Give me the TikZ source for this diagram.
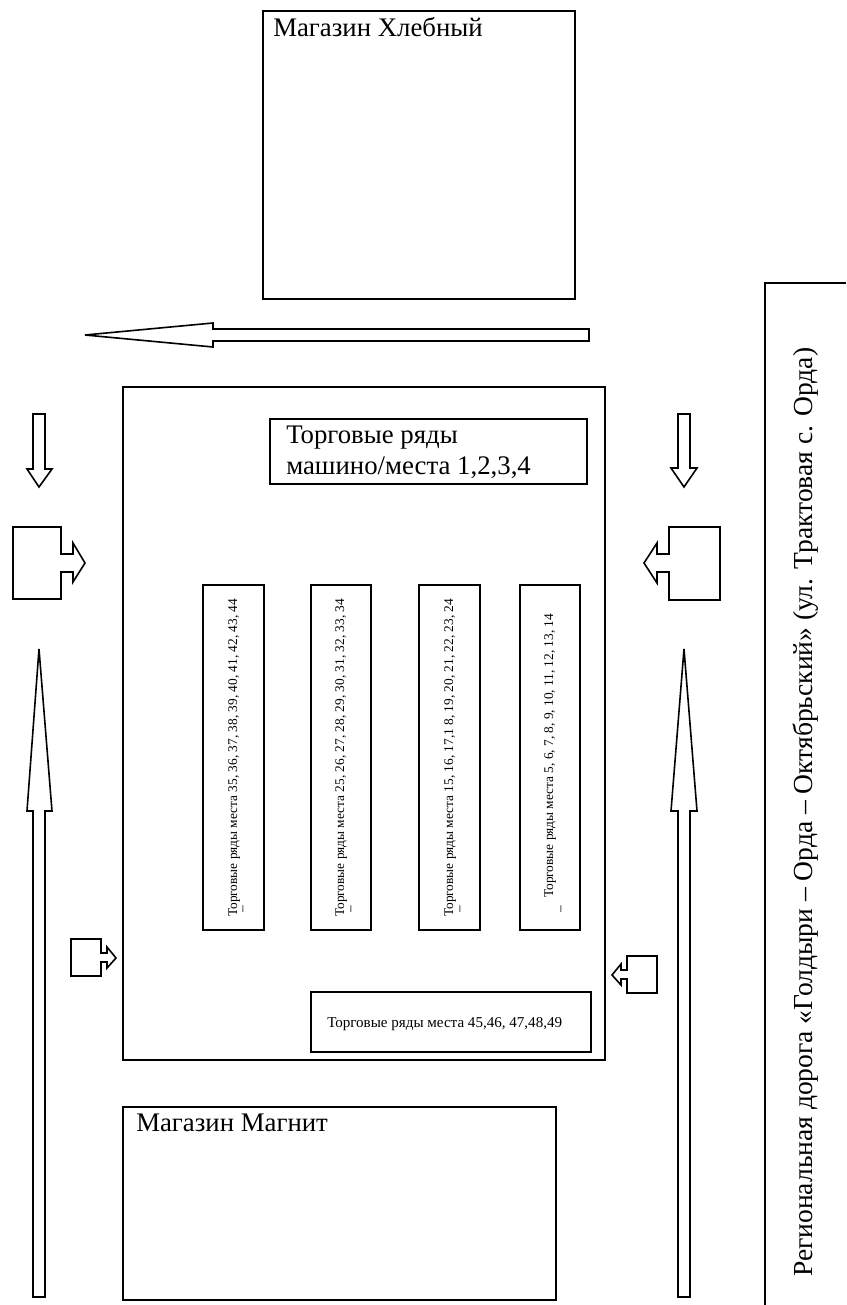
\documentclass[tikz,border=0pt]{standalone}
\usepackage{fontspec}
\setmainfont{Liberation Serif}
\begin{document}
\begin{tikzpicture}[x=0.75pt,y=-0.75pt,
  outline/.style={draw=black,line width=1.2pt,line join=miter,fill=white},
  box/.style={outline,anchor=north west,inner sep=0pt,outer sep=0pt},
  big/.style={font=\fontsize{20.1}{24}\selectfont,inner sep=0pt,anchor=base west},
  roadlabel/.style={font=\fontsize{20.65}{24}\selectfont,inner sep=0pt,anchor=base west,rotate=90},
  small/.style={font=\fontsize{10}{12}\selectfont,inner sep=0pt,anchor=base west},
  rowlabel/.style={small,rotate=90}]
\useasboundingbox (0,0) rectangle (846,1305);
% shops and stalls
\node[box,minimum width=312*0.75pt,minimum height=288*0.75pt] (khleb) at (263,11) {};
\node[big] (khlebT) at (273,37) {Магазин Хлебный};
\node[box,minimum width=482*0.75pt,minimum height=673*0.75pt] (market) at (123,387) {};
\node[box,minimum width=317*0.75pt,minimum height=65*0.75pt] (cars) at (270,419) {};
\node[big] (carsA) at (286,443) {Торговые ряды};
\node[big] (carsB) at (286,474) {машино/места 1,2,3,4};
\foreach \nm/\x/\w in {r1/203/61,r2/311/60,r3/419/61,r4/520/60}
  \node[box,minimum width=\w*0.75pt,minimum height=345*0.75pt] (\nm) at (\x,585) {};
\node[rowlabel] (t1) at (237,917) {Торговые ряды  места 35, 36, 37, 38, 39, 40, 41, 42, 43, 44};
\node[rowlabel] (t2) at (344,917) {Торговые ряды  места 25, 26, 27, 28, 29, 30, 31, 32, 33, 34};
\node[rowlabel] (t3) at (453,917) {Торговые ряды  места 15, 16, 17,1 8, 19, 20, 21, 22, 23, 24};
\node[rowlabel] (t4) at (553,898) {Торговые ряды  места 5, 6, 7, 8, 9, 10, 11, 12, 13, 14};
\node[rowlabel] (d1) at (246,913) {–};
\node[rowlabel] (d2) at (354,913) {–};
\node[rowlabel] (d3) at (463,913) {–};
\node[rowlabel] (d4) at (564,913) {–};
\node[box,minimum width=280*0.75pt,minimum height=60*0.75pt] (bot) at (311,992) {};
\node[font=\fontsize{11.3}{13}\selectfont,inner sep=0pt,anchor=base west] (botT) at (327,1027) {Торговые ряды места 45,46, 47,48,49};
\node[box,minimum width=433*0.75pt,minimum height=193*0.75pt] (magnit) at (123,1107) {};
\node[big] (magnitT) at (136,1131) {Магазин Магнит};
% road
\draw[line width=1.2pt] (846,283) -- (765,283) -- (765,1305);
\node[roadlabel] (road) at (812,1277) {Региональная дорога «Голдыри – Орда – Октябрьский» (ул. Трактовая с. Орда)};
% arrows
\draw[outline] (589,329) -- (213,329) -- (213,323) -- (85,335) -- (213,347) -- (213,341) -- (589,341) -- cycle;
\draw[outline] (33,414) -- (45,414) -- (45,469) -- (52,469) -- (39,487) -- (27,469) -- (33,469) -- cycle;
\draw[outline] (678,414) -- (690,414) -- (690,468) -- (697,468) -- (684,487) -- (671,468) -- (678,468) -- cycle;
\draw[outline] (13,527) -- (61,527) -- (61,554) -- (73,554) -- (73,543) -- (85,563) -- (73,582) -- (73,572) -- (61,572) -- (61,599) -- (13,599) -- cycle;
\draw[outline] (720,527) -- (669,527) -- (669,554) -- (657,554) -- (657,543) -- (644,563) -- (657,583) -- (657,572) -- (669,572) -- (669,600) -- (720,600) -- cycle;
\draw[outline] (71,939) -- (101,939) -- (101,953) -- (107,953) -- (107,947) -- (116,958) -- (107,968) -- (107,962) -- (101,962) -- (101,976) -- (71,976) -- cycle;
\draw[outline] (657,956) -- (627,956) -- (627,970) -- (621,970) -- (621,964) -- (612,975) -- (621,985) -- (621,979) -- (627,979) -- (627,993) -- (657,993) -- cycle;
\draw[outline] (33,1297) -- (33,811) -- (27,811) -- (39,649) -- (52,811) -- (45,811) -- (45,1297) -- cycle;
\draw[outline] (678,1297) -- (678,811) -- (671,811) -- (684,649) -- (697,811) -- (690,811) -- (690,1297) -- cycle;
\end{tikzpicture}
\end{document}
